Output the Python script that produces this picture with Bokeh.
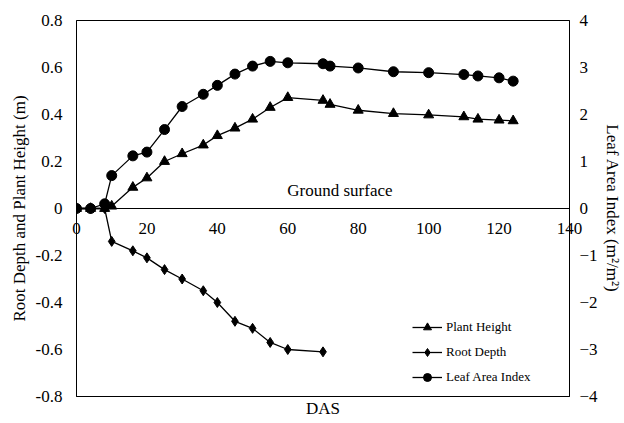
from bokeh.plotting import figure
from bokeh.models import (Range1d, LinearAxis, FixedTicker, CustomJSTickFormatter,
                          Span, ColumnDataSource, Legend, Label, Title)
from bokeh.embed import file_html
from bokeh.resources import INLINE

# ---- data ----
days = [0, 4, 8, 10, 16, 20, 25, 30, 36, 40, 45, 50, 55, 60, 70, 72, 80, 90, 100, 110, 114, 120, 124]
plant_height = [0, 0, 0, 0.01, 0.09, 0.13, 0.20, 0.233, 0.27, 0.31, 0.342, 0.38, 0.43, 0.472,
                0.46, 0.443, 0.418, 0.404, 0.398, 0.39, 0.38, 0.376, 0.373]
lai = [0, 0, 0.1, 0.70, 1.12, 1.20, 1.68, 2.17, 2.43, 2.62, 2.86, 3.03, 3.13, 3.10,
       3.08, 3.03, 2.99, 2.91, 2.89, 2.85, 2.82, 2.78, 2.71]
root_days = [0, 4, 8, 10, 16, 20, 25, 30, 36, 40, 45, 50, 55, 60, 70]
root_depth = [0, 0, 0, -0.14, -0.18, -0.21, -0.26, -0.30, -0.35, -0.40, -0.48, -0.51, -0.57, -0.60, -0.61]
x_ticks = [0, 20, 40, 60, 80, 100, 120, 140]
left_ticks = [-0.8, -0.6, -0.4, -0.2, 0, 0.2, 0.4, 0.6, 0.8]
right_ticks = [-4, -3, -2, -1, 0, 1, 2, 3, 4]

FONT = "Liberation Serif"

p = figure(width=624, height=423, output_backend="svg", toolbar_location=None,
           x_range=Range1d(0, 140), y_range=Range1d(-0.8, 0.8),
           x_axis_type=None, y_axis_type=None,
           min_border_left=76, min_border_right=52, min_border_top=20, min_border_bottom=27)
p.extra_y_ranges = {"lai": Range1d(-4, 4)}
p.xgrid.visible = False
p.ygrid.visible = False
p.outline_line_color = "black"
p.outline_line_width = 1
p.background_fill_color = "white"
p.border_fill_color = "white"

# left axis
ly = LinearAxis(ticker=FixedTicker(ticks=left_ticks),
                formatter=CustomJSTickFormatter(code="return Math.abs(tick) < 1e-9 ? '0' : tick.toFixed(1);"),
                axis_label="Root Depth and Plant Height (m)")
# right axis
ry = LinearAxis(y_range_name="lai", ticker=FixedTicker(ticks=right_ticks),
                axis_label="Leaf Area Index (m\u00b2/m\u00b2)")
for ax, st, ls in ((ly, 14, 4), (ry, 10, 2)):
    ax.major_tick_out = 0
    ax.major_tick_in = 0
    ax.minor_tick_out = 0
    ax.minor_tick_in = 0
    ax.major_label_standoff = st
    ax.axis_label_standoff = ls
    ax.major_label_text_font = FONT
    ax.major_label_text_font_size = "17px"
    ax.major_label_text_color = "black"
    ax.axis_label_text_font = FONT
    ax.axis_label_text_font_size = "17px"
    ax.axis_label_text_font_style = "normal"
    ax.axis_label_text_color = "black"
    ax.axis_line_color = "black"
p.add_layout(ly, "left")
p.add_layout(ry, "right")

# x tick labels: drawn by a bottom axis whose labels are pulled up to sit under y = 0
bx = LinearAxis(ticker=FixedTicker(ticks=x_ticks))
bx.major_tick_out = 0
bx.major_tick_in = 0
bx.minor_tick_out = 0
bx.minor_tick_in = 0
bx.major_label_standoff = -174
bx.major_label_text_font = FONT
bx.major_label_text_font_size = "17px"
bx.major_label_text_color = "black"
bx.axis_line_color = "black"
p.add_layout(bx, "below")

p.add_layout(Title(text="DAS", align="center", text_font=FONT, text_font_size="17px",
                   text_font_style="normal", text_color="black", standoff=0), "below")

# ground line (x axis at zero)
p.add_layout(Span(location=0, dimension="width", line_color="black", line_width=1))

p.add_layout(Label(x=74.8, y=0.036, text="Ground surface", text_font=FONT,
                   text_font_size="17px", text_color="black", text_align="center",
                   text_baseline="bottom"))

# series
ph_src = ColumnDataSource(dict(x=days, y=plant_height))
rd_src = ColumnDataSource(dict(x=root_days, y=root_depth))
lai_src = ColumnDataSource(dict(x=days, y=lai))

r1 = p.line("x", "y", source=ph_src, line_color="black", line_width=1.3)
m1 = p.scatter("x", "y", source=ph_src, marker="triangle", size=10, color="black")
r2 = p.line("x", "y", source=rd_src, line_color="black", line_width=1.3)
m2 = p.scatter("x", "y", source=rd_src, marker="diamond", size=10, color="black")
r3 = p.line("x", "y", source=lai_src, y_range_name="lai", line_color="black", line_width=1.3)
m3 = p.scatter("x", "y", source=lai_src, y_range_name="lai", marker="circle", size=10, color="black")

legend = Legend(items=[("Plant Height", [r1, m1]), ("Root Depth", [r2, m2]),
                       ("Leaf Area Index", [r3, m3])],
                location=(336, 9), padding=0, margin=0, spacing=5,
                glyph_width=30, glyph_height=20, label_height=20, label_standoff=4,
                label_text_font=FONT, label_text_font_size="13px", label_text_color="black",
                background_fill_alpha=0, border_line_alpha=0)
p.add_layout(legend, "center")

open("out.html", "w").write(file_html(p, INLINE))
